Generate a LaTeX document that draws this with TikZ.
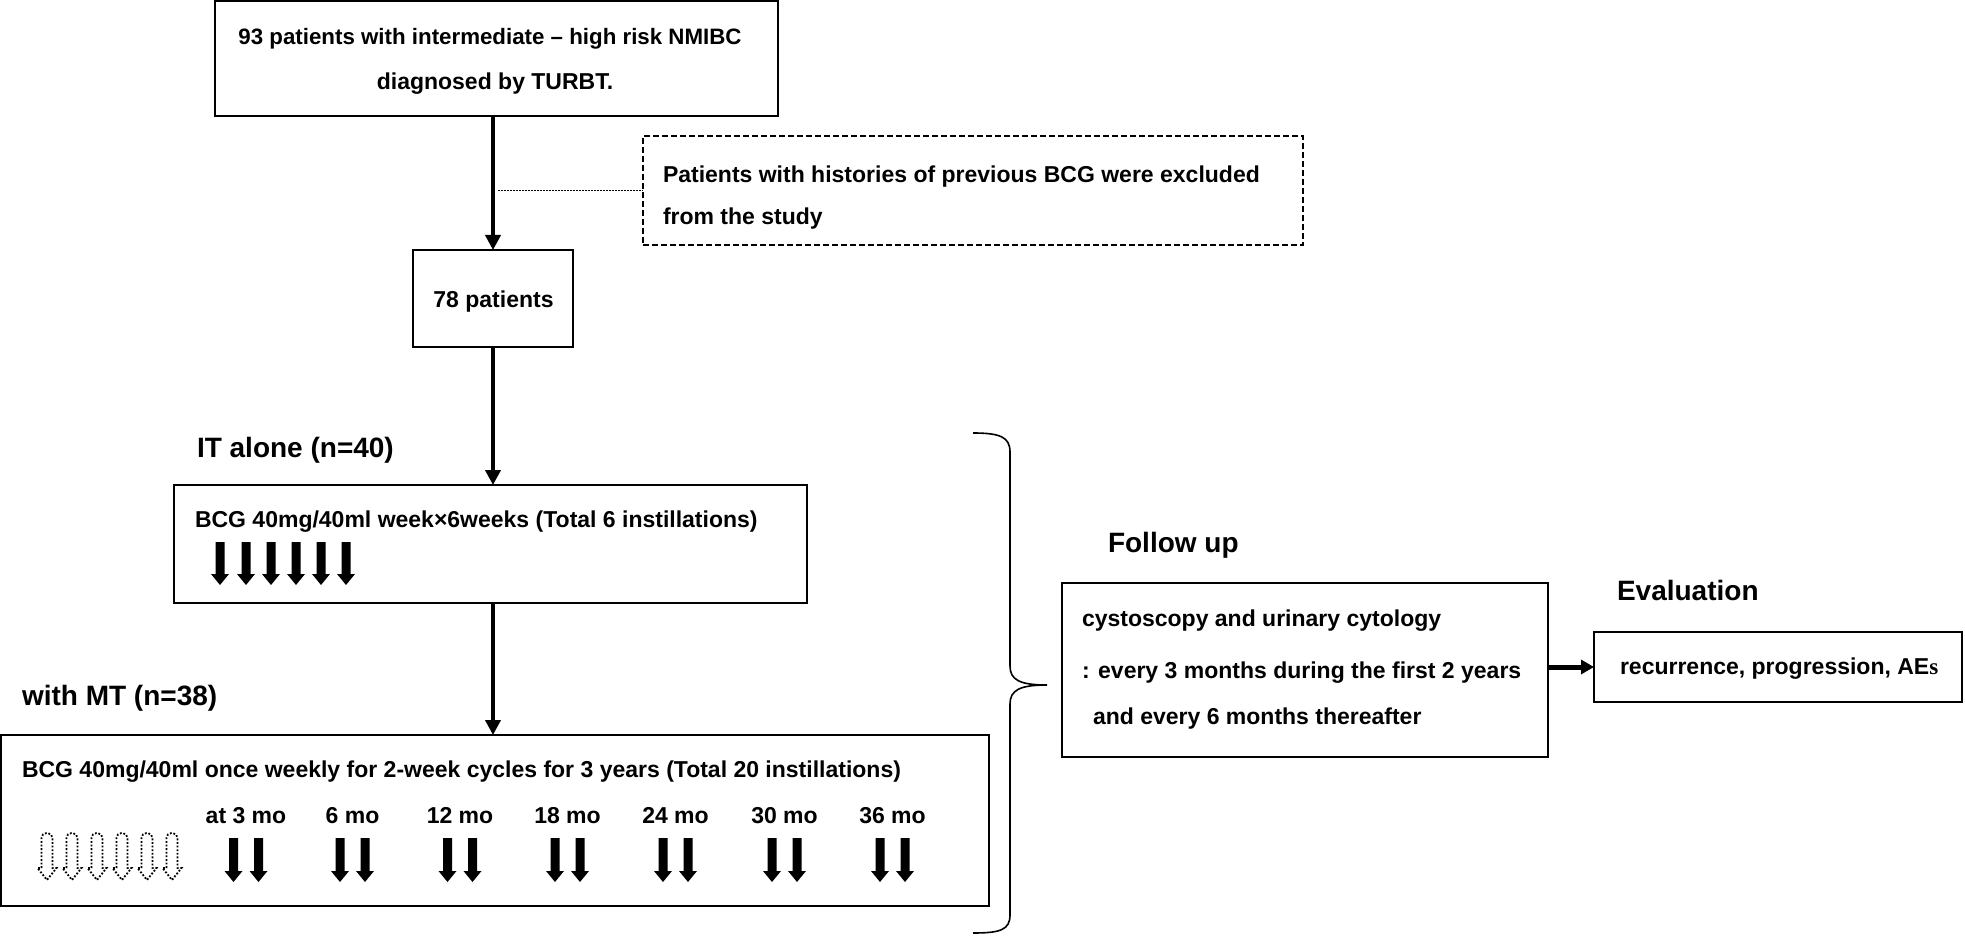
\documentclass[tikz,border=0pt]{standalone}
\usepackage{fontspec}
\setmainfont{Liberation Sans}
\newfontfamily\serifAE{Liberation Serif}
\usetikzlibrary{arrows.meta}
\newcommand\blockarrow[3]{\fill (#1-4.5,#2) -- (#1+4.5,#2) -- (#1+4.5,#3-11) -- (#1+9,#3-11) -- (#1,#3) -- (#1-9,#3-11) -- (#1-4.5,#3-11) -- cycle;}
\newcommand\dotarrow[1]{\draw[dotarr] (#1-5.5,868) [rounded corners=5pt] -- (#1-5.5,833) -- (#1+5.5,833) [sharp corners] -- (#1+5.5,868) -- (#1+9.5,868) -- (#1,880) -- (#1-9.5,868) -- cycle;}
\begin{document}
\begin{tikzpicture}[x=1pt,y=-1pt,
  box/.style={draw, line width=2.8pt, inner sep=0pt, outer sep=0pt},
  txt/.style={inner sep=0pt, outer sep=0pt, font=\fontsize{23}{27}\selectfont\bfseries, anchor=base west},
  ctxt/.style={txt, anchor=base},
  lbl/.style={txt, font=\fontsize{28}{32}\selectfont\bfseries},
  flow/.style={line width=4pt, -{Triangle[length=15pt,width=15pt]}},
  dotarr/.style={line width=1.8pt, dash pattern=on 1.8pt off 1.8pt},
]
\useasboundingbox (0,0) rectangle (1965,936);

% top box
\node[box, minimum width=563pt, minimum height=115pt] (top) at (496.5,58.5) {};
\node[ctxt, font=\fontsize{22.3}{27}\selectfont\bfseries] (topA) at (490,45) {93 patients with intermediate – high risk NMIBC};
\node[ctxt] (topB) at (495,90) {diagnosed by TURBT.};

% exclusion box
\node[box, line width=1.5pt, dash pattern=on 6pt off 3pt, minimum width=660pt, minimum height=109pt] (excl) at (973,190.5) {};
\node[txt] (exA) at (663,183) {Patients with histories of previous BCG were excluded};
\node[txt] (exB) at (663,225) {from the study};

% 78 patients
\node[box, minimum width=160pt, minimum height=97pt] (p78) at (493,298.5) {};
\node[ctxt] (p78t) at (493.5,307) {78 patients};

% IT alone
\node[lbl] (itl) at (197,457) {IT alone (n=40)};
\node[box, minimum width=633pt, minimum height=118pt] (it) at (490.5,544) {};
\node[txt] (itt) at (195,527) {BCG 40mg/40ml week×6weeks (Total 6 instillations)};
\foreach \x in {220,246,271,296,321,346} {\blockarrow{\x}{542}{585}}

% with MT
\node[lbl] (mtl) at (22,705) {with MT (n=38)};
\node[box, minimum width=988pt, minimum height=171pt] (mt) at (495,820.5) {};
\node[txt] (mtt) at (22,777) {BCG 40mg/40ml once weekly for 2-week cycles for 3 years (Total 20 instillations)};
\foreach \x/\t [count=\i] in {246/at 3 mo, 352.5/6 mo, 460/12 mo, 567.5/18 mo, 675.5/24 mo, 784.5/30 mo, 892.5/36 mo} {
  \node[ctxt] (mo\i) at (\x,823) {\t};
  \blockarrow{\x-12.5}{838}{882}
  \blockarrow{\x+12.5}{838}{882}
}
\foreach \x in {47,72,97,122,147,172} {\dotarrow{\x}}

% follow up
\node[lbl] (ful) at (1108,552) {Follow up};
\node[box, minimum width=486pt, minimum height=174pt] (fu) at (1305,670) {};
\node[txt] (fu1) at (1082,626) {cystoscopy and urinary cytology};
\node[txt] (fu2) at (1082,678) {: every 3 months during the first 2 years};
\node[txt] (fu3) at (1093,724) {and every 6 months thereafter};

% evaluation
\node[lbl] (evl) at (1617,600) {Evaluation};
\node[box, minimum width=368pt, minimum height=70pt] (ev) at (1778,667) {};
\node[txt] (evt) at (1620,674) {recurrence, progression, AE{\serifAE s}};

% connectors
\draw[flow] (top.south -| p78.north) -- (p78.north);
\draw[flow] (p78.south) -- (p78.south |- it.north);
\draw[flow] (p78.south |- it.south) -- (p78.south |- mt.north);
\coordinate (dj) at (498,190.5);
\draw[line width=1.5pt, dash pattern=on 1.5pt off 1.5pt] (dj) -- (dj -| excl.west);
\draw[line width=5pt, -{Triangle[length=13pt,width=14pt]}] (fu.east |- ev.west) -- (ev.west);

% brace
\draw[line width=1.6pt] (973,433) .. controls (1000,433) and (1010,437) .. (1010,452) -- (1010,666) .. controls (1010,680) and (1020,685) .. (1047,685) .. controls (1020,685) and (1010,690) .. (1010,704) -- (1010,915) .. controls (1010,930) and (1000,933) .. (973,933);
\end{tikzpicture}
\end{document}
